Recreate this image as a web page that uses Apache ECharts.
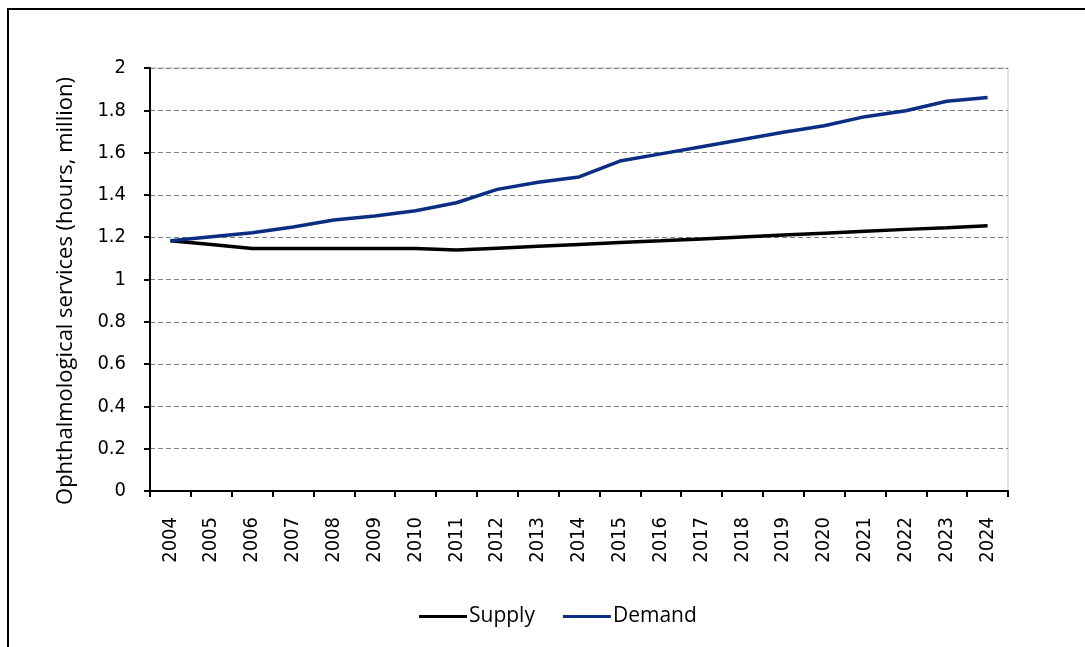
<!DOCTYPE html>
<html>
<head>
<meta charset="utf-8">
<script src="https://cdn.jsdelivr.net/npm/echarts@6/dist/echarts.min.js"></script>
<style>
html,body{margin:0;padding:0;background:#fff;}
#chart{width:1085px;height:647px;}
</style>
</head>
<body>
<div id="chart"></div>
<script>
const years = ['2004','2005','2006','2007','2008','2009','2010','2011','2012','2013','2014','2015','2016','2017','2018','2019','2020','2021','2022','2023','2024'];
const supply = [1.183,1.165,1.147,1.147,1.147,1.147,1.147,1.139,1.148,1.157,1.166,1.175,1.183,1.192,1.201,1.210,1.219,1.228,1.237,1.245,1.254];
const demand = [1.183,1.202,1.221,1.248,1.281,1.300,1.325,1.363,1.426,1.460,1.485,1.560,1.594,1.628,1.662,1.696,1.727,1.770,1.798,1.843,1.860];
const yTicks = {min:0, max:2, interval:0.2};
const yTitle = 'Ophthalmological services (hours, million)';

const tickFont = '"DejaVu Sans Condensed", "DejaVu Sans"';
const chart = echarts.init(document.getElementById('chart'));
chart.setOption({
  backgroundColor:'#fff',
  animation:false,
  grid:{left:150,right:77,top:68,bottom:156,show:true,borderColor:'#c4c4c4',borderWidth:1,backgroundColor:'transparent'},
  graphic:[
    {type:'rect',shape:{x:8,y:9,width:1100,height:700},style:{fill:'none',stroke:'#000',lineWidth:2},silent:true},
    {type:'text',x:66,y:291,rotation:Math.PI/2,style:{text:yTitle,font:'22px "Open Sans"',fill:'#000',textAlign:'center',textVerticalAlign:'middle'}}
  ],
  legend:{
    left:414, top:601,
    itemWidth:48, itemHeight:3, itemGap:28,
    icon:'rect',
    textStyle:{fontFamily:'Open Sans',fontSize:21,color:'#000',padding:[0,0,0,-3]},
    data:['Supply','Demand']
  },
  xAxis:{
    type:'category', data:years, boundaryGap:true,
    axisLine:{lineStyle:{color:'#000',width:2}},
    axisTick:{show:true,length:6,lineStyle:{color:'#000',width:2}},
    axisLabel:{rotate:90,margin:26,fontFamily:tickFont,fontSize:20,color:'#000',interval:0},
    splitLine:{show:false}
  },
  yAxis:{
    type:'value', min:yTicks.min, max:yTicks.max, interval:yTicks.interval,
    axisLine:{show:true,lineStyle:{color:'#000',width:2}},
    axisTick:{show:true,length:6,lineStyle:{color:'#000',width:2}},
    axisLabel:{margin:24,fontFamily:tickFont,fontSize:20,color:'#000'},
    splitLine:{show:true,lineStyle:{color:'#808080',width:1,type:[5,3]}}
  },
  series:[
    {name:'Supply',type:'line',data:supply,symbol:'none',lineStyle:{color:'#000',width:3.5},itemStyle:{color:'#000'}},
    {name:'Demand',type:'line',data:demand,symbol:'none',lineStyle:{color:'#0b2d82',width:3.5},itemStyle:{color:'#0b2d82'}}
  ]
});
</script>
</body>
</html>
